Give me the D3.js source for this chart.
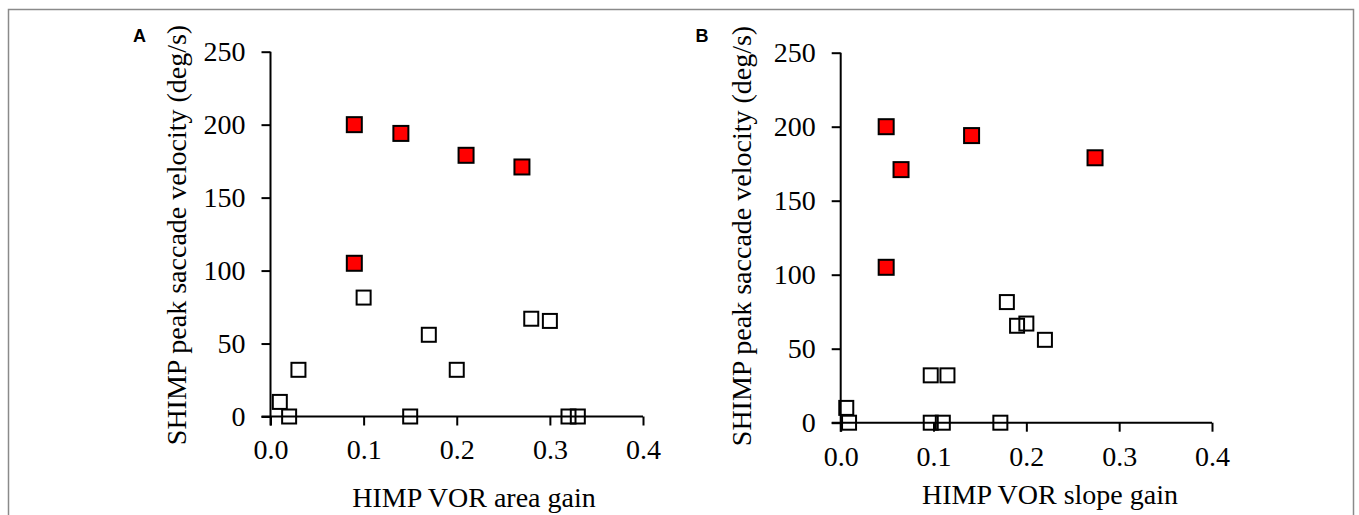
<!DOCTYPE html>
<html>
<head>
<meta charset="utf-8">
<script src="https://cdn.jsdelivr.net/npm/d3@7"></script>
<style>
    body { margin: 0; background: #fff; }
    svg { display: block; }
    svg text { font-family: 'Liberation Serif', 'Times New Roman', serif; }
</style>
</head>
<body>
<div id="chart"></div>
<script>
// velocities are shared by both panels (same subjects)
const velocityRed = [200, 194, 179, 171, 105];
const velocityOpen = [81.5, 56, 32, 32, 67, 65.5, 10, 0, 0, 0, 0];

const areaGainRed = [0.09, 0.14, 0.21, 0.27, 0.09];
const areaGainOpen = [0.10, 0.17, 0.03, 0.20, 0.28, 0.30, 0.01, 0.02, 0.15, 0.32, 0.33];

const slopeGainRed = [0.049, 0.141, 0.274, 0.065, 0.049];
const slopeGainOpen = [0.179, 0.22, 0.097, 0.115, 0.20, 0.19, 0.006, 0.009, 0.097, 0.11, 0.172];

const xTicks = [0, 0.1, 0.2, 0.3, 0.4];
const yTicks = [0, 50, 100, 150, 200, 250];

const chartWidth = 1359;
const chartHeight = 515;
const serif = "'Liberation Serif', 'Times New Roman', serif";

var svg = d3.select("#chart").append("svg")
    .attr("width", chartWidth)
    .attr("height", chartHeight);

// grey frame round the figure (open at the bottom)
svg.append("path")
    .attr("d", "M8.5,515 V9.5 H1353.5 V515")
    .attr("fill", "none")
    .attr("stroke", "#8a8a8a")
    .attr("stroke-width", 1.5);

function squares(g, data, x, y, size, fill) {
    g.selectAll(null)
        .data(data)
        .enter()
        .append("rect")
        .attr("x", function(d) { return x(d[0]) - size / 2; })
        .attr("y", function(d) { return y(d[1]) - size / 2; })
        .attr("width", size)
        .attr("height", size)
        .attr("fill", fill)
        .attr("stroke", "#000")
        .attr("stroke-width", 2);
}

function drawPanel(p) {
    var x = d3.scaleLinear().domain([0, 0.4]).range([p.left, p.right]);
    var y = d3.scaleLinear().domain([0, 250]).range([p.bottom, p.top]);
    var g = svg.append("g");

    var yAxis = g.append("g")
        .attr("transform", "translate(" + p.left + ",0)")
        .call(d3.axisLeft(y).tickValues(yTicks).tickSize(9).tickPadding(16).tickFormat(d3.format("d")));
    var xAxis = g.append("g")
        .attr("transform", "translate(0," + p.bottom + ")")
        .call(d3.axisBottom(x).tickValues(xTicks).tickSize(9).tickPadding(14).tickFormat(d3.format(".1f")));

    [xAxis, yAxis].forEach(function(a) {
        a.attr("font-family", serif).attr("font-size", 28);
        a.select(".domain").attr("stroke", "#000").attr("stroke-width", 2);
        a.selectAll(".tick line").attr("stroke", "#000").attr("stroke-width", 2);
        a.selectAll(".tick text").attr("fill", "#000");
    });
    // plain axis lines without the outer ticks
    yAxis.select(".domain").attr("d", "M0," + y(250) + "V" + (p.bottom + 9));
    xAxis.select(".domain").attr("d", "M" + (p.left - 9) + ",0H" + p.right);

    var open = p.openX.map(function(d, i) { return [d, velocityOpen[i]]; });
    var red = p.redX.map(function(d, i) { return [d, velocityRed[i]]; });
    squares(g, open, x, y, 14, "none");
    squares(g, red, x, y, 15, "#ff0000");

    g.append("text")
        .attr("x", p.xTitleX)
        .attr("y", p.xTitleY)
        .attr("text-anchor", "middle")
        .style("font-size", "28px")
        .text(p.xTitle);

    g.append("text")
        .attr("transform", "translate(" + p.yTitleX + "," + p.yTitleY + ") rotate(-90)")
        .attr("text-anchor", "middle")
        .style("font-size", "28px")
        .text("SHIMP peak saccade velocity (deg/s)");

    g.append("text")
        .attr("x", p.letterX)
        .attr("y", 42)
        .style("font-family", "'Liberation Sans', Arial, sans-serif")
        .style("font-weight", "bold")
        .style("font-size", "18px")
        .text(p.letter);
}

drawPanel({ letter: "A", letterX: 133, left: 270.5, right: 643, top: 51.7, bottom: 416.5,
    openX: areaGainOpen, redX: areaGainRed,
    xTitle: "HIMP VOR area gain", xTitleX: 474, xTitleY: 506.5, yTitleX: 186, yTitleY: 235 });
drawPanel({ letter: "B", letterX: 695.5, left: 840.7, right: 1212, top: 52.7, bottom: 422.7,
    openX: slopeGainOpen, redX: slopeGainRed,
    xTitle: "HIMP VOR slope gain", xTitleX: 1050, xTitleY: 503.5, yTitleX: 751, yTitleY: 236 });
</script>
</body>
</html>
